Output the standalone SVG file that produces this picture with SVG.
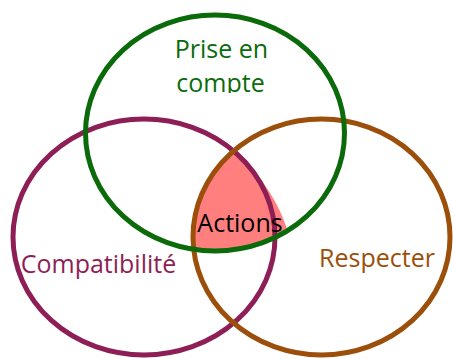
<svg xmlns="http://www.w3.org/2000/svg" width="453" height="359" viewBox="0 0 453 359">
  <style>
    .ring { fill: none; stroke-width: 5; }
    .label { font-family: "Open Sans", "Noto Sans", sans-serif; font-size: 25px; text-anchor: middle; }
    .green { stroke: #0b6b0b; }
    .plum { stroke: #8e1f56; }
    .rust { stroke: #9c4f0b; }
  </style>
  <defs>
    <clipPath id="topLabelBox">
      <rect x="140" y="20" width="170" height="73"/>
    </clipPath>
  </defs>
  <rect width="453" height="359" fill="#ffffff"/>

  <!-- shared zone of the three sets -->
  <g id="actions-zone">
    <path d="M233.6,150.9 C252,165 276,195 287,229 A129.5,118 0 0 1 194,249.5 A128.5,118 0 0 1 233.6,150.9 Z" fill="#ff7f7f"/>
  </g>

  <g id="connectors"></g>

  <g id="compatibilite">
    <ellipse class="ring plum" cx="144" cy="237" rx="131" ry="118"/>
    <text class="label" x="98.5" y="273" fill="#8e1f56">Compatibilité</text>
  </g>

  <g id="respecter">
    <ellipse class="ring rust" cx="321.5" cy="237" rx="128.5" ry="118"/>
    <text class="label" x="377" y="267" fill="#9c4f0b">Respecter</text>
  </g>

  <g id="prise-en-compte">
    <ellipse class="ring green" cx="215" cy="133" rx="129.5" ry="118"/>
    <g clip-path="url(#topLabelBox)">
      <text class="label" x="221.5" y="58" fill="#0b6b0b">Prise en</text>
      <text class="label" x="220.5" y="92" fill="#0b6b0b">compte</text>
    </g>
  </g>

  <g id="actions">
    <text class="label" x="240" y="232" fill="#000000">Actions</text>
  </g>
</svg>
